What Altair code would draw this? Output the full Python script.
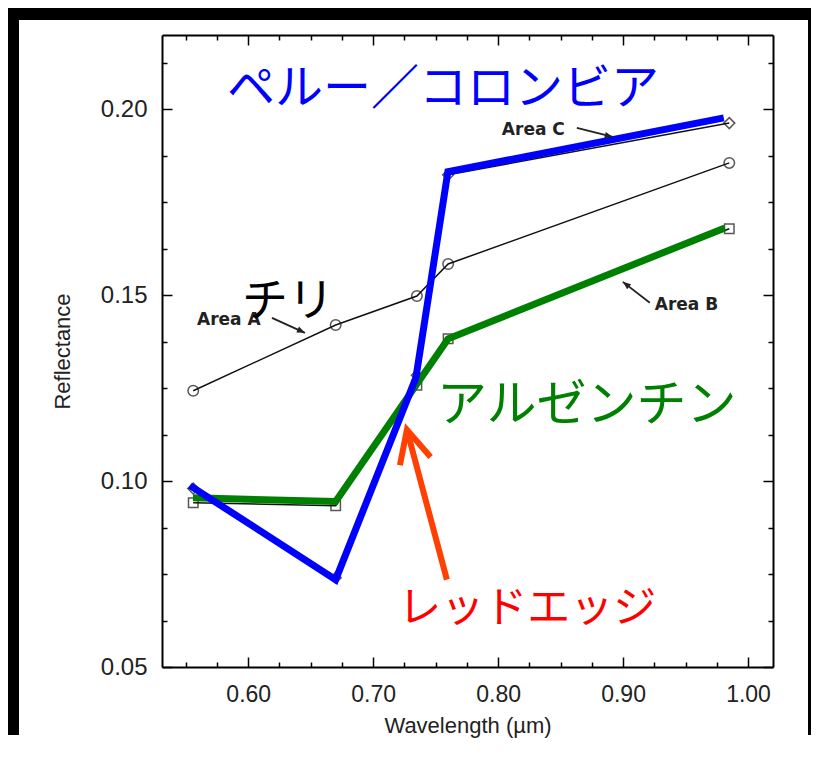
import math
import altair as alt
import pandas as pd

# ---------------- data ----------------
wavelength = [0.556, 0.670, 0.735, 0.760, 0.985]
area_a = [0.1243, 0.1420, 0.1498, 0.1584, 0.1856]
area_b = [0.0942, 0.0934, 0.1258, 0.1383, 0.1679]
area_c = [0.0980, 0.0740, 0.1285, 0.1824, 0.1963]

argentina_x = [0.5558, 0.670, 0.760, 0.9814]
argentina_y = [0.0955, 0.0945, 0.1383, 0.1681]
peru_x = [0.5534, 0.670, 0.7342, 0.7598, 0.9806]
peru_y = [0.0988, 0.0735, 0.1278, 0.1832, 0.1977]

x_major = [0.60, 0.70, 0.80, 0.90, 1.00]
x_minor = [0.55, 0.575, 0.625, 0.65, 0.675, 0.725, 0.75, 0.775,
           0.825, 0.85, 0.875, 0.925, 0.95, 0.975]
y_major = [0.05, 0.10, 0.15, 0.20]
y_minor = [0.0625, 0.075, 0.0875, 0.1125, 0.125, 0.1375,
           0.1625, 0.175, 0.1875, 0.2125]

jp_text = ["ペルー／コロンビア", "チリ", "アルゼンチン", "レッドエッジ"]
jp_x = [0.7558, 0.6318, 0.8710, 0.8234]
jp_y = [0.2052, 0.1482, 0.1203, 0.0655]

area_text = ["Area A", "Area B", "Area C"]
area_tx = [0.559, 0.9254, 0.803]
area_ty = [0.1434, 0.1474, 0.1945]

# small arrows: tail -> tip
arrow_x = [0.619, 0.9214, 0.863]
arrow_y = [0.14392, 0.14796, 0.1950]
arrow_x2 = [0.6454, 0.8998, 0.8918]
arrow_y2 = [0.13989, 0.15360, 0.19258]

red_x, red_y, red_x2, red_y2 = [0.759], [0.0735], [0.727], [0.1138]

# ---------------- layout ----------------
W, H = 611, 632
XD = [0.531, 1.02]
YD = [0.05, 0.22]
xs = alt.Scale(domain=XD, nice=False, zero=False)
ys = alt.Scale(domain=YD, nice=False, zero=False)

LABEL_FONT = "Liberation Sans"
JP_FONT = "Noto Sans CJK JP"


def head_angle(x, y, x2, y2):
    dx = (x2 - x) * W / (XD[1] - XD[0])
    dy = -(y2 - y) * H / (YD[1] - YD[0])
    return math.degrees(math.atan2(dx, -dy)) % 360


def tick_axis(orient, offset, values, size, domain=False):
    return alt.Axis(orient=orient, offset=offset, values=values, tickSize=size,
                    tickWidth=1.5, tickColor="black", labels=False, domain=domain,
                    domainColor="black", domainWidth=2, grid=False, title=None,
                    zindex=2)


def X(axis=None):
    return alt.X("x:Q", scale=xs, axis=axis)


def Y(axis=None):
    return alt.Y("y:Q", scale=ys, axis=axis)


main_x_axis = alt.Axis(orient="bottom", values=x_major, format=".2f", ticks=False,
                       labelFont=LABEL_FONT, labelFontSize=23, labelColor="#222",
                       labelPadding=16, labelFlush=False, domain=True,
                       domainColor="black", domainWidth=2, grid=False,
                       title="Wavelength (µm)", titleFont=LABEL_FONT,
                       titleFontSize=22, titleFontWeight="normal",
                       titleColor="#222", titlePadding=9, zindex=2)
main_y_axis = alt.Axis(orient="left", values=y_major, format=".2f", ticks=False,
                       labelFont=LABEL_FONT, labelFontSize=24, labelColor="#222",
                       labelPadding=15, labelFlush=False, domain=True,
                       domainColor="black", domainWidth=2, grid=False,
                       title="Reflectance", titleFont=LABEL_FONT,
                       titleFontSize=22, titleFontWeight="normal",
                       titleColor="#222", titlePadding=26, zindex=2)

df_a = pd.DataFrame({"x": wavelength, "y": area_a})
df_b = pd.DataFrame({"x": wavelength, "y": area_b})
df_c = pd.DataFrame({"x": wavelength, "y": area_c})
df_arg = pd.DataFrame({"x": argentina_x, "y": argentina_y})
df_peru = pd.DataFrame({"x": peru_x, "y": peru_y})

layers = []

# black frame around the picture, then the white page panel
one = pd.DataFrame({"k": [0]})
layers.append(
    alt.Chart(one).mark_rect(color="black").encode(
        x=alt.value(-154), x2=alt.value(649), y=alt.value(-27), y2=alt.value(700))
)
layers.append(
    alt.Chart(one).mark_rect(color="white").encode(
        x=alt.value(-143), x2=alt.value(646), y=alt.value(-15), y2=alt.value(900))
)

thin = dict(color="#111", strokeWidth=1.5)

# Area A (circles) + main axes
layers.append(alt.Chart(df_a).mark_line(**thin).encode(x=X(main_x_axis), y=Y(main_y_axis)))
layers.append(alt.Chart(df_a).mark_point(shape="circle", filled=False, size=110,
                                         color="#111", strokeWidth=1.5).encode(x=X(), y=Y()))
# Area B (squares) + inward major ticks at bottom / left
layers.append(alt.Chart(df_b).mark_line(**thin).encode(
    x=X(tick_axis("top", -H, x_major, 10)), y=Y(tick_axis("right", -W, y_major, 10))))
layers.append(alt.Chart(df_b).mark_point(shape="square", filled=False, size=90,
                                         color="#111", strokeWidth=1.5).encode(x=X(), y=Y()))
# Area C (diamonds) + inward major ticks at top / right with frame
layers.append(alt.Chart(df_c).mark_line(**thin).encode(
    x=X(tick_axis("bottom", -H, x_major, 10, True)),
    y=Y(tick_axis("left", -W, y_major, 10, True))))
layers.append(alt.Chart(df_c).mark_point(shape="diamond", filled=False, size=120,
                                         color="#111", strokeWidth=1.5).encode(x=X(), y=Y()))
# thick overlays + minor ticks
layers.append(alt.Chart(df_arg).mark_line(color="#008000", strokeWidth=7).encode(
    x=X(tick_axis("top", -H, x_minor, 5)), y=Y(tick_axis("right", -W, y_minor, 5))))
layers.append(alt.Chart(df_peru).mark_line(color="#0000ff", strokeWidth=7).encode(
    x=X(tick_axis("bottom", -H, x_minor, 5)), y=Y(tick_axis("left", -W, y_minor, 5))))

# small "Area" labels and arrows
df_area = pd.DataFrame({"x": area_tx, "y": area_ty, "t": area_text})
layers.append(alt.Chart(df_area).mark_text(font="DejaVu Sans", fontSize=17, fontWeight="bold",
                                           color="#222", align="left",
                                           baseline="middle").encode(
    x=X(), y=Y(), text="t:N"))
df_arrow = pd.DataFrame({"x": arrow_x, "y": arrow_y, "x2": arrow_x2, "y2": arrow_y2})
df_arrow["ang"] = [head_angle(a, b, c, d) for a, b, c, d in zip(arrow_x, arrow_y, arrow_x2, arrow_y2)]
layers.append(alt.Chart(df_arrow).mark_rule(color="#222", strokeWidth=1.8).encode(
    x=X(), y=Y(), x2="x2:Q", y2="y2:Q"))
layers.append(alt.Chart(df_arrow).mark_point(shape="M 0 0 L -0.4 1 L 0.4 1 Z", filled=True,
                                             size=256, color="#222", opacity=1).encode(
    x=alt.X("x2:Q", scale=xs, axis=None), y=alt.Y("y2:Q", scale=ys, axis=None),
    angle=alt.Angle("ang:Q", scale=None)))

# Japanese annotations
jp_style = [("#0000ff", 48), ("#000000", 46), ("#008000", 50), ("#ff0000", 43)]
for t, x, y, (col, fs) in zip(jp_text, jp_x, jp_y, jp_style):
    layers.append(alt.Chart(pd.DataFrame({"x": [x], "y": [y], "t": [t]})).mark_text(
        font=JP_FONT, fontSize=fs, color=col, align="center", baseline="middle").encode(
        x=X(), y=Y(), text="t:N"))

# red-edge arrow
df_red = pd.DataFrame({"x": red_x, "y": red_y, "x2": red_x2, "y2": red_y2})
df_red["ang"] = [head_angle(red_x[0], red_y[0], red_x2[0], red_y2[0])]
layers.append(alt.Chart(df_red).mark_rule(color="#ff4000", strokeWidth=6).encode(
    x=X(), y=Y(), x2="x2:Q", y2="y2:Q"))
layers.append(alt.Chart(df_red).mark_point(shape="M -0.49 1 L 0 0 L 0.49 1", filled=False,
                                           size=4200, color="#ff4000", strokeWidth=6,
                                           opacity=1).encode(
    x=alt.X("x2:Q", scale=xs, axis=None), y=alt.Y("y2:Q", scale=ys, axis=None),
    angle=alt.Angle("ang:Q", scale=None)))

chart = alt.layer(*layers).resolve_axis(x="independent", y="independent").properties(
    width=W, height=H, background="white",
    padding={"left": 154, "top": 27, "right": 38, "bottom": 78},
    autosize=alt.AutoSizeParams(type="none"),
).configure_view(strokeWidth=0)

chart.save("out.html", embed_options={"renderer": "svg", "actions": False})
